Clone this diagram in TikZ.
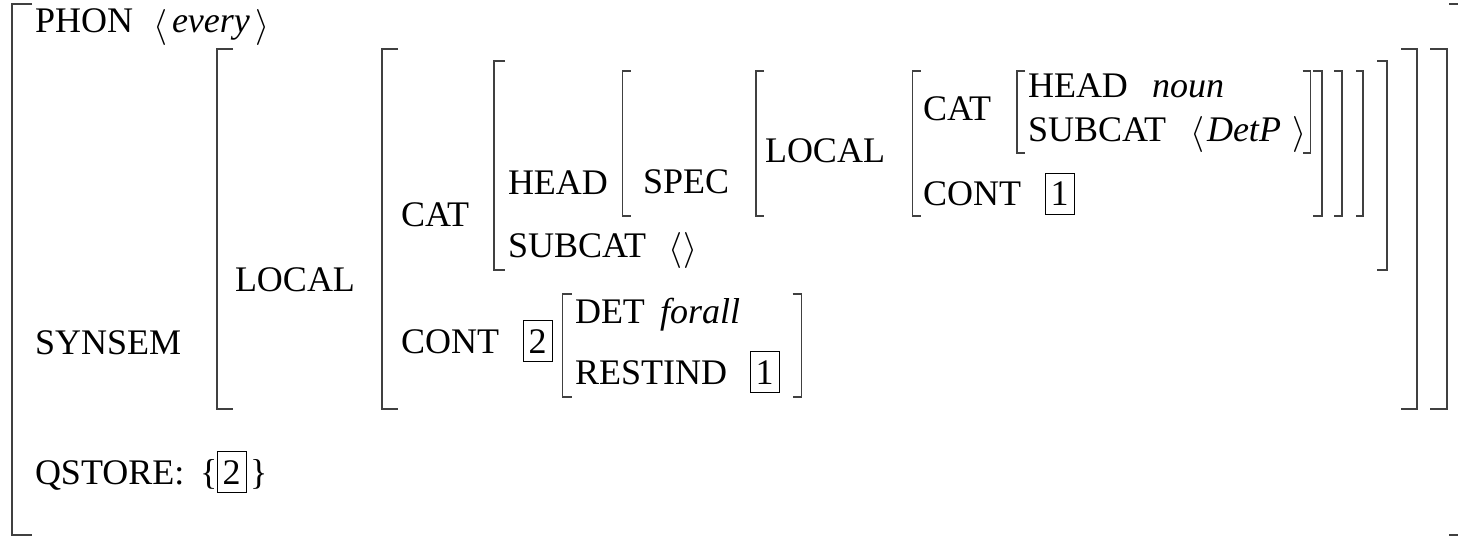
\RequirePackage{fix-cm}
\documentclass[tikz,border=0pt]{standalone}
\usepackage{fontspec}
\setmainfont{Liberation Serif}
% left bracket: x, top, bottom, tick length
\newcommand{\avmLB}[4]{\draw[brk] (#1+#4,#2) -- (#1,#2) -- (#1,#3) -- (#1+#4,#3);}
% right bracket: x, top, bottom, tick length
\newcommand{\avmRB}[4]{\draw[brk] (#1-#4,#2) -- (#1,#2) -- (#1,#3) -- (#1-#4,#3);}
\begin{document}
\begin{tikzpicture}[x=1pt,y=-1pt,
  lbl/.style={inner sep=0pt, outer sep=0pt, anchor=base west, font=\fontsize{36}{43}\selectfont},
  val/.style={lbl, font=\fontsize{36}{43}\selectfont\itshape},
  tag/.style={lbl, draw, line width=1pt, minimum width=29pt, minimum height=41pt},
  brk/.style={line width=1.1pt, black!75}]
\useasboundingbox (0,0) rectangle (1458,537);

% outermost matrix
\avmLB{12}{4}{535}{20}
\avmRB{1460}{4}{535}{11}
\node[lbl] (phon) at (35,33) {PHON};
\node[lbl] (phonL) at (153,37) {$\langle$};
\node[val] (every) at (172,33) {every};
\node[lbl] (phonR) at (255,37) {$\rangle$};
\node[lbl] (synsem) at (35,354) {SYNSEM};
\node[lbl] (qstore) at (35,484) {QSTORE:};
\node[lbl] (qsL) at (200,484) {\{};
\node[tag] (qstag) at (217,484) {2};
\node[lbl] (qsR) at (250,484) {\}};

% SYNSEM value
\avmLB{217}{49}{409}{16}
\avmRB{1447}{49}{409}{17}
\node[lbl] (local1) at (235,291) {LOCAL};

% LOCAL value
\avmLB{382}{49}{409}{16}
\avmRB{1417}{49}{409}{16}
\node[lbl] (cat1) at (401,227) {CAT};
\node[lbl] (cont1) at (401,353) {CONT};
\node[tag] (tag2) at (523,353) {2};

% CAT value
\avmLB{494}{61}{270}{11}
\avmRB{1387}{61}{270}{10}
\node[lbl] (head1) at (508,195) {HEAD};
\node[lbl] (subcat1) at (508,258) {SUBCAT};
\node[lbl] (scL) at (668,260) {$\langle$};
\node[lbl] (scR) at (683,260) {$\rangle$};

% HEAD value
\avmLB{622.5}{71}{216}{8}
\avmRB{1363}{71}{216}{7}
\node[lbl] (spec) at (643,194) {SPEC};

% SPEC value
\avmLB{756}{71}{216}{8}
\avmRB{1342}{71}{216}{8}
\node[lbl] (local2) at (765,163) {LOCAL};

% embedded LOCAL value
\avmLB{912.5}{71}{216}{8}
\avmRB{1322}{71}{216}{9}
\node[lbl] (cat2) at (923,121) {CAT};
\node[lbl] (cont2) at (923,206) {CONT};
\node[tag] (tag1a) at (1045,206) {1};

% embedded CAT value
\avmLB{1017}{71}{153}{8}
\avmRB{1310.7}{71}{153}{8}
\node[lbl] (head2) at (1028,98) {HEAD};
\node[val] (noun) at (1152,98) {noun};
\node[lbl] (subcat2) at (1028,142) {SUBCAT};
\node[lbl] (dpL) at (1190,144) {$\langle$};
\node[val] (detp) at (1207,142) {DetP};
\node[lbl] (dpR) at (1292,144) {$\rangle$};

% CONT value
\avmLB{562.5}{294}{397}{9}
\avmRB{801.7}{294}{397}{9}
\node[lbl] (det) at (575,323) {DET};
\node[val] (forall) at (660,323) {forall};
\node[lbl] (restind) at (575,384) {RESTIND};
\node[tag] (tag1b) at (750,384) {1};
\end{tikzpicture}
\end{document}
